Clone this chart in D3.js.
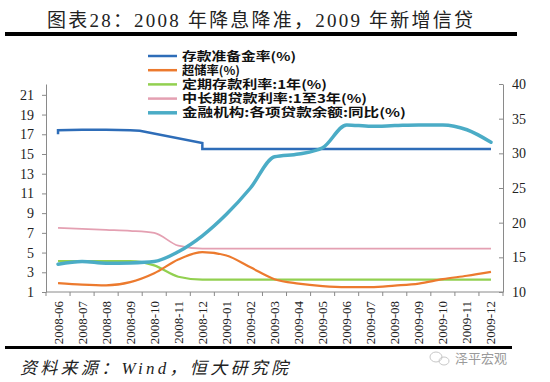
<!DOCTYPE html>
<html><head><meta charset="utf-8">
<script src="https://cdn.jsdelivr.net/npm/d3@7"></script>
<style>body{margin:0;background:#fff}svg{display:block}</style>
</head><body>
<script>
const months = ["2008-06","2008-07","2008-08","2008-09","2008-10","2008-11","2008-12","2009-01","2009-02","2009-03","2009-04","2009-05","2009-06","2009-07","2009-08","2009-09","2009-10","2009-11","2009-12"];
// 存款准备金率 (month index, value) – includes the step drop in Dec 2008
const reserveIdx = [0, 0, 1, 2, 3, 3.4, 6, 6, 18];
const reserveVal = [17.0, 17.4, 17.45, 17.45, 17.4, 17.35, 16.1, 15.5, 15.5];
const excessReserve = [1.9, 1.75, 1.68, 2.0, 2.9, 4.3, 5.05, 4.7, 3.5, 2.3, 1.85, 1.6, 1.5, 1.5, 1.65, 1.85, 2.3, 2.65, 3.05];
const depositRate = [4.14, 4.14, 4.14, 4.14, 3.7, 2.55, 2.25, 2.25, 2.25, 2.25, 2.25, 2.25, 2.25, 2.25, 2.25, 2.25, 2.25, 2.25, 2.25];
const loanRate = [7.5, 7.4, 7.3, 7.2, 7.0, 5.7, 5.4, 5.4, 5.4, 5.4, 5.4, 5.4, 5.4, 5.4, 5.4, 5.4, 5.4, 5.4, 5.4];
const loanGrowth = [14.0, 14.4, 14.15, 14.2, 14.4, 15.8, 18.1, 21.2, 25.0, 29.5, 29.9, 30.8, 34.1, 33.9, 34.0, 34.1, 34.1, 33.4, 31.6];
const leftTicks = [1,3,5,7,9,11,13,15,17,19,21];
const rightTicks = [10,15,20,25,30,35,40];
const seriesNames = ["存款准备金率(%)","超储率(%)","定期存款利率:1年(%)","中长期贷款利率:1至3年(%)","金融机构:各项贷款余额:同比(%)"];
const legendWidths = [114, 58, 145, 185, 224];
const colors = ["#2E6DB8","#EC7A2E","#92D050","#E4A0B2","#4BACC6"];

const W = 550, H = 382;
const svg = d3.select("body").append("svg").attr("width", W).attr("height", H);
const serif = "'Liberation Serif','Noto Sans CJK SC',serif";
const cjk = "'Noto Sans CJK SC',sans-serif";

svg.append("text").attr("x", 47).attr("y", 27).attr("font-family", serif)
  .attr("font-size", 19).attr("fill", "#222").attr("textLength", 426)
  .text("图表28：2008 年降息降准，2009 年新增信贷");
svg.append("rect").attr("x", 5).attr("y", 32).attr("width", 512).attr("height", 4).attr("fill", "#000");

const pL = 46, pR = 503, pT = 84, pB = 292;
const x = d3.scaleBand().domain(months).range([pL, pR]).padding(0);
const xi = d3.scaleLinear().domain([0, months.length - 1])
  .range([x(months[0]) + x.bandwidth()/2, x(months[months.length-1]) + x.bandwidth()/2]);
const yL = d3.scaleLinear().domain([1, 22.1]).range([pB, pT]);
const yR = d3.scaleLinear().domain([10, 40]).range([pB, pT]);

const axisColor = "#8a8a8a";
const gL = svg.append("g").attr("transform", `translate(${pL},0)`)
  .call(d3.axisLeft(yL).tickValues(leftTicks).tickSizeInner(4).tickSizeOuter(0).tickPadding(8));
const gR = svg.append("g").attr("transform", `translate(${pR},0)`)
  .call(d3.axisRight(yR).tickValues(rightTicks).tickSizeInner(-4).tickSizeOuter(0).tickPadding(9));
[gL, gR].forEach(g => {
  g.select(".domain").attr("stroke", axisColor);
  g.selectAll(".tick line").attr("stroke", axisColor);
  g.selectAll(".tick text").attr("font-family", serif).attr("font-size", 14).attr("fill", "#222");
});
svg.append("line").attr("x1", pL).attr("x2", pR).attr("y1", pB).attr("y2", pB).attr("stroke", axisColor);
const bounds = months.map(m => x(m)).concat([x.range()[1]]);
svg.selectAll(".xt").data(bounds).join("line")
  .attr("x1", d => d).attr("x2", d => d).attr("y1", pB).attr("y2", pB + 4).attr("stroke", axisColor);
svg.selectAll(".xl").data(months).join("text")
  .attr("transform", d => `translate(${x(d) + x.bandwidth()/2 + 4.5},${pB + 9}) rotate(-90)`)
  .attr("text-anchor", "end").attr("font-family", serif).attr("font-size", 13).attr("fill", "#222")
  .text(d => d);

const smooth = (vals, y) => d3.line().x((d, i) => xi(i)).y(d => y(d)).curve(d3.curveMonotoneX)(vals);
svg.append("path").attr("d", smooth(loanRate, yL)).attr("fill", "none").attr("stroke", colors[3]).attr("stroke-width", 1.8);
svg.append("path").attr("d", smooth(depositRate, yL)).attr("fill", "none").attr("stroke", colors[2]).attr("stroke-width", 2.2);
svg.append("path").attr("d", smooth(excessReserve, yL)).attr("fill", "none").attr("stroke", colors[1]).attr("stroke-width", 2.2);
const blue = d3.line().x(d => xi(d[0])).y(d => yL(d[1]))(reserveIdx.map((v, i) => [v, reserveVal[i]]));
svg.append("path").attr("d", blue).attr("fill", "none").attr("stroke", colors[0]).attr("stroke-width", 2.5);
svg.append("path").attr("d", smooth(loanGrowth, yR)).attr("fill", "none").attr("stroke", colors[4]).attr("stroke-width", 3.5).attr("stroke-linecap", "round");

const lg = svg.append("g");
seriesNames.forEach((n, i) => {
  const yy = 56 + i * 14.2;
  lg.append("line").attr("x1", 148).attr("x2", 177).attr("y1", yy).attr("y2", yy)
    .attr("stroke", colors[i]).attr("stroke-width", i === 4 ? 3.5 : 2.5);
  lg.append("text").attr("x", 182).attr("y", yy + 4.5).attr("font-family", cjk).attr("font-weight", "bold")
    .attr("font-size", 12).attr("fill", "#111").attr("textLength", legendWidths[i])
    .attr("lengthAdjust", "spacingAndGlyphs").text(n);
});

svg.append("rect").attr("x", 5).attr("y", 346).attr("width", 507).attr("height", 3).attr("fill", "#000");
svg.append("text").attr("x", 20).attr("y", 374).attr("font-family", serif).attr("font-style", "italic")
  .attr("font-size", 17).attr("fill", "#222").attr("textLength", 268).text("资料来源：Wind，恒大研究院");
svg.append("ellipse").attr("cx", 436).attr("cy", 357).attr("rx", 6).attr("ry", 5).attr("fill", "none").attr("stroke", "#c8c8c8");
svg.append("ellipse").attr("cx", 444).attr("cy", 361).attr("rx", 5).attr("ry", 4).attr("fill", "none").attr("stroke", "#c8c8c8");
svg.append("text").attr("x", 455).attr("y", 363).attr("font-family", cjk).attr("font-size", 13)
  .attr("fill", "#9a9a9a").text("泽平宏观");
</script>
</body></html>
